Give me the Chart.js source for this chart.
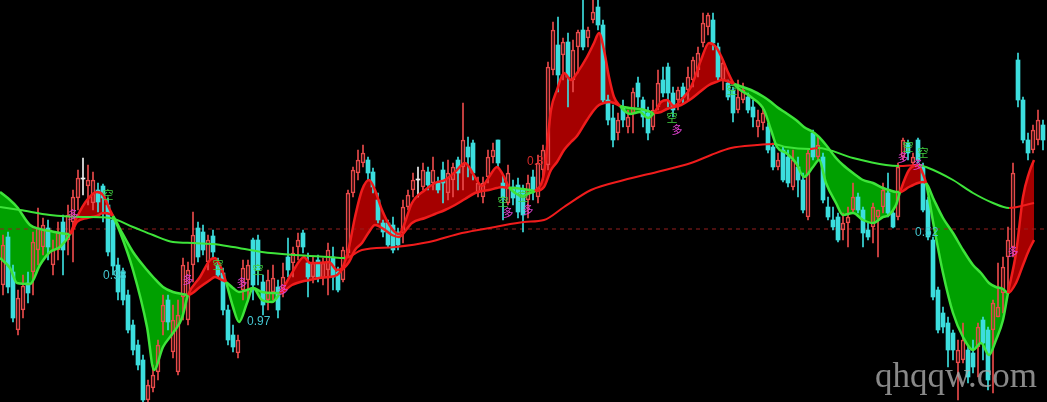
<!DOCTYPE html>
<html>
<head>
<meta charset="utf-8">
<script src="https://cdn.jsdelivr.net/npm/chart.js@4"></script>
<style>
    html, body { margin: 0; padding: 0; background: #000; }
    #wrap { width: 1047px; height: 402px; position: relative; }
</style>
</head>
<body>
<div id="wrap"><canvas id="kline"></canvas></div>
<script>
// candles, one per bar
const opens = [
    215,263,228,170,190,217,228,250,253,272, 235,250,278,260,278,302,321,314,297,310,
    314,295,280,235,228,205,175,155,140,100, 112,128,178,200,148,128,203,180,235,272,
    268,238,264,235,227,190,165,147,210,220, 260,260,218,200,208,213,210,243,237,253,
    267,237,223,240,222,230,243,228,220,247, 307,327,337,340,328,300,277,277,275,268,
    267,293,310,320,313,328,317,317,330,307, 320,340,333,353,357,307,303,323,343,360,
    317,297,313,315,310,300,323,303,330,335, 430,455,445,458,420,453,470,462,480,493,
    475,400,382,367,393,373,387,417,400,387, 373,393,420,433,407,400,413,410,420,430,
    457,473,480,453,420,417,410,390,400,403, 393,373,377,373,353,333,350,343,313,333,
    320,283,367,343,343,293,280,283,270,277, 290,303,290,270,273,283,293,307,287,283,
    343,357,337,360,333,300,260,210,187,177, 167,137,140,150,147,153,180,170,170,183,
    207,243,253,440,400,360,350,360,375
];
const highs = [
    265,268,235,210,225,228,268,292,282,280, 260,278,285,295,310,330,342,335,328,317,
    316,302,285,242,232,210,180,160,145,120, 135,160,205,205,195,200,242,238,288,278,
    275,265,270,242,232,195,175,165,240,240, 262,265,225,230,235,220,237,262,253,267,
    270,247,243,245,242,257,253,233,253,310, 333,350,355,343,332,307,280,280,283,272,
    300,310,327,333,337,333,343,323,338,340, 337,343,397,363,360,323,323,350,357,360,
    325,335,320,322,315,325,330,345,355,438, 478,483,462,467,460,470,500,473,500,500,
    480,405,395,387,400,390,412,423,403,393, 400,430,433,437,413,413,417,433,443,453,
    487,487,487,457,440,420,413,420,417,407, 400,390,393,377,357,347,353,350,350,343,
    327,350,370,363,347,303,293,287,287,293, 317,307,293,277,297,290,317,327,290,337,
    362,360,347,362,337,303,263,213,193,183, 170,160,177,153,160,177,183,173,200,237,
    243,273,337,447,403,367,375,390,380
];
const lows = [
    205,207,178,165,182,197,205,235,245,240, 225,240,225,245,238,290,305,295,290,288,
    278,244,225,200,195,167,145,130,98,98, 108,120,165,170,142,125,180,175,218,238,
    245,230,242,222,185,155,148,142,200,200, 200,215,185,190,200,182,203,223,223,240,
    247,203,217,218,215,205,210,208,218,243, 303,320,333,320,307,277,263,253,247,250,
    257,290,303,303,310,310,310,307,297,300, 303,310,310,323,320,303,297,317,337,333,
    280,295,295,282,268,282,300,297,320,330, 425,408,420,393,408,427,450,453,477,470,
    398,375,353,360,373,367,367,393,373,360, 370,390,403,393,383,390,397,400,413,423,
    453,465,450,420,410,400,378,387,397,387, 373,363,370,347,330,330,318,313,310,303,
    287,280,340,340,297,280,270,258,260,253, 287,287,253,260,257,243,287,283,272,280,
    340,340,333,337,288,260,200,167,167,133, 140,100,137,117,127,123,140,110,107,183,
    187,207,243,393,357,340,347,355,350
];
const closes = [
    255,213,182,202,214,207,258,272,275,253, 250,268,250,285,303,322,321,320,320,298,
    302,248,234,208,200,170,150,135,100,115, 125,155,195,178,180,185,235,230,265,243,
    250,260,248,225,190,160,153,160,232,235, 215,230,195,220,222,190,223,230,247,260,
    253,223,237,223,237,250,223,210,250,307, 330,340,347,327,313,280,268,255,250,255,
    293,305,320,320,330,315,330,310,317,327, 333,327,360,343,327,317,317,343,350,337,
    302,327,302,288,285,317,310,337,350,433, 470,425,458,423,450,468,453,470,488,475,
    400,380,360,380,380,383,408,403,383,367, 390,417,407,407,390,410,403,423,440,447,
    477,485,457,423,437,403,387,403,410,390, 383,380,387,350,333,340,320,317,340,320,
    290,347,343,355,300,283,273,260,277,283, 303,290,267,263,293,290,310,287,273,333,
    360,347,343,340,290,263,203,170,173,150, 150,150,160,123,133,173,157,120,197,193,
    233,260,327,400,360,347,370,380,360
];

// fast / slow trend band (bar index, price)
const bandIdx = [
    -0.6,1.4,2.8,5.4,7.4,9.4,11.4,13.4,14.8,16.8, 18.8,20,21.4,22,23.4,26,28.8,30.2,32,34,
    35.8,37,39.4,41.4,42.4,43.8,44.6,46,47.2,48.8, 50,51.8,53.8,55.4,57.8,60.2,61.4,63.2,65.2,66.8,
    67.8,69.2,70.4,71.8,73.2,74.4,75.8,77.8,79.2,79.8, 81.8,84.4,86.4,88.4,90.4,92.4,94.4,95.8,97.2,98.8,
    99.8,101.2,102.4,104,105.4,106.4,108.2,109.6,110.8,112.2, 113.6,114.8,116.8,118.2,119.2,120.2,121.2,122.2,123.4,125.4,
    127.4,129,130.2,131.6,132.8,134.2,135.6,137.6,139.6,141.2, 142.6,143.8,144.8,146.2,149.6,152.2,153.6,154.8,156.6,158.6,
    160.2,162,163.2,164.6,166.6,168,170,172,174,176, 177.2,178.6,179.4,181.2,183,184,184.6,186.2,188,190,
    192,194,195.6,197.2,198.6,200,201,202.6,204,205.2, 206.2
];
const bandFast = [
    242,232,217,216,235,248,253,266,283,300, 308,305,290,284,268,230,173,130,153,167,
    182,205,223,240,242,230,218,193,178,197, 212,200,198,207,227,243,237,237,238,230,
    232,253,283,310,320,310,290,271,266,270, 297,310,317,320,328,337,323,314,323,333,
    327,313,307,304,307,309,327,390,410,427, 420,427,443,457,467,450,423,403,394,386,
    388,382,387,398,400,394,400,413,440,457, 453,442,430,416,403,390,370,353,347,337,
    323,333,340,317,297,285,287,280,277,283, 285,295,308,330,335,326,317,273,227,187,
    163,150,157,145,160,180,207,247,303,327, 340
];
const bandSlow = [
    308,300,293,275,271,269,267,266,278,282, 284,287,286,284,271,248,230,222,213,208,
    206,205,213,220,223,220,218,212,208,210, 212,208,207,207,215,219,220,222,223,225,
    230,238,250,257,268,275,272,265,263,265, 277,282,286,290,295,301,307,309,310,312,
    313,312,312,311,310,309,313,330,338,350, 358,364,380,390,395,397,398,397,394,392,
    391,389,387,388,391,393,395,401,409,415, 418,420,419,416,410,403,398,393,387,380,
    373,368,363,355,342,335,327,320,317,312, 310,308,308,313,317,318,317,300,282,267,
    250,235,227,217,213,211,207,217,235,250, 260
];

// long moving average
const maIdx = [
    -0.6,3.4,9.4,16,21.4,26,30,34,38,42, 46,51.8,58.4,65.2,68.4,71.8,78.4,85.2,91.8,98.4,
    104.2,108.2,112.2,117.6,124.2,130.8,137.6,141.6,145.6,150.8, 154.2,156.6,161.4,163,170,176.6,179.2,183.2,184.6,190,
    194,198,201.2,206.2
];
const maVals = [
    293,290,285,283,282,273,265,258,257,256, 253,248,245,243,242,250,253,258,267,273,
    278,280,293,310,320,328,337,345,352,355, 356,353,351,352,342,335,334,335,333,320,
    307,297,292,297
];

const refPrice = 271;

// value notes and signal glyphs
const noteIdx = [20, 48.8, 104.8, 182.4];
const notePrice = [224, 178, 338, 267];
const noteText = ['0.98', '0.97', '0.8', '0.52'];
const noteUp = [false, false, true, false];

const longIdx = [14, 37, 47.8, 56, 101, 105, 134.8, 180, 183, 202];
const longPrice = [285, 220, 217, 210, 287, 290, 370, 342, 335, 248];
const shortIdx = [21, 43, 51, 100, 104, 133.8, 145.8, 181, 184];
const shortPrice = [305, 235, 230, 298, 303, 382, 410, 353, 347];

const UP = '#e84a4a';
const DOWN = '#3cdede';
const DOJI = '#f0f0f0';
const LINE_RED = '#f01c1c';
const LINE_GREEN = '#3ee43a';

const candleColor = (i) => {
    if (closes[i] > opens[i]) return UP;
    if (closes[i] < opens[i]) return DOWN;
    return DOJI;
};

const bodies = opens.map((o, i) => ({ x: i, y: [Math.min(o, closes[i]), Math.max(o, closes[i])] }));
const upperWicks = highs.map((h, i) => ({ x: i, y: [Math.max(opens[i], closes[i]), h] }));
const lowerWicks = lows.map((l, i) => ({ x: i, y: [l, Math.min(opens[i], closes[i])] }));

const fastPts = bandIdx.map((x, k) => ({ x, y: bandFast[k] }));
const slowPts = bandIdx.map((x, k) => ({ x, y: bandSlow[k] }));
const maPts = maIdx.map((x, k) => ({ x, y: maVals[k] }));

const bandColor = (ctx) => {
    const a = ctx.p0DataIndex;
    const b = ctx.p1DataIndex;
    const d = (bandFast[a] - bandSlow[a]) + (bandFast[b] - bandSlow[b]);
    return d > 0 ? LINE_RED : LINE_GREEN;
};

const overlay = {
    id: 'overlay',
    afterDatasetsDraw(chart) {
        const { ctx, chartArea } = chart;
        const x = chart.scales.x;
        const y = chart.scales.y;
        ctx.save();

        ctx.font = '12px "Liberation Sans", Arial, sans-serif';
        ctx.textBaseline = 'middle';
        ctx.textAlign = 'left';
        noteText.forEach((t, k) => {
            ctx.fillStyle = noteUp[k] ? '#d22a2a' : '#44c6d0';
            ctx.fillText(t, x.getPixelForValue(noteIdx[k]), y.getPixelForValue(notePrice[k]));
        });

        ctx.font = '11px "Noto Sans CJK SC"';
        ctx.textAlign = 'center';
        ctx.fillStyle = '#e040d0';
        longIdx.forEach((v, k) => {
            ctx.fillText('多', x.getPixelForValue(v), y.getPixelForValue(longPrice[k]));
        });
        ctx.fillStyle = '#40d040';
        shortIdx.forEach((v, k) => {
            ctx.fillText('空', x.getPixelForValue(v), y.getPixelForValue(shortPrice[k]));
        });

        // watermark
        ctx.font = '35px "Liberation Serif", "DejaVu Serif", serif';
        ctx.textAlign = 'right';
        ctx.textBaseline = 'alphabetic';
        ctx.fillStyle = 'rgba(170,170,170,0.8)';
        ctx.fillText('qhqqw.com', chartArea.right - 10, chartArea.bottom - 15);
        ctx.restore();
    },
};

new Chart(document.getElementById('kline'), {
    type: 'bar',
    data: {
        datasets: [
            {
                type: 'line',
                data: fastPts,
                borderWidth: 2.5,
                pointRadius: 0,
                cubicInterpolationMode: 'monotone',
                segment: { borderColor: bandColor },
                fill: { target: 1, above: 'rgb(165,0,0)', below: 'rgb(0,160,0)' },
                order: 1,
            },
            {
                type: 'line',
                data: slowPts,
                borderWidth: 2.5,
                pointRadius: 0,
                cubicInterpolationMode: 'monotone',
                segment: { borderColor: bandColor },
                fill: false,
                order: 1,
            },
            {
                type: 'line',
                data: maPts,
                borderWidth: 2,
                pointRadius: 0,
                cubicInterpolationMode: 'monotone',
                segment: {
                    borderColor: (ctx) => (ctx.p1.parsed.y > ctx.p0.parsed.y ? LINE_RED : LINE_GREEN),
                },
                fill: false,
                order: 0,
            },
            {
                type: 'line',
                data: [{ x: -0.6, y: refPrice }, { x: 208.8, y: refPrice }],
                borderColor: 'rgb(150,30,30)',
                borderWidth: 1,
                borderDash: [4, 4],
                pointRadius: 0,
                fill: false,
                order: 10,
            },
            {
                data: upperWicks,
                grouped: false,
                barThickness: 1,
                backgroundColor: (ctx) => candleColor(ctx.dataIndex),
                borderWidth: 0,
                order: 3,
            },
            {
                data: lowerWicks,
                grouped: false,
                barThickness: 1,
                backgroundColor: (ctx) => candleColor(ctx.dataIndex),
                borderWidth: 0,
                order: 3,
            },
            {
                data: bodies,
                grouped: false,
                barThickness: 4,
                minBarLength: 1,
                backgroundColor: (ctx) => {
                    const c = candleColor(ctx.dataIndex);
                    return c === UP ? 'rgba(0,0,0,0)' : c;
                },
                borderColor: UP,
                borderWidth: (ctx) => (candleColor(ctx.dataIndex) === UP ? 1 : 0),
                borderSkipped: false,
                order: 2,
            },
        ],
    },
    options: {
        responsive: true,
        maintainAspectRatio: false,
        animation: false,
        devicePixelRatio: 1,
        layout: { padding: 0 },
        scales: {
            x: { type: 'linear', min: -0.6, max: 208.8, offset: false, display: false },
            y: { min: 98, max: 500, display: false },
        },
        plugins: {
            legend: { display: false },
            tooltip: { enabled: false },
            filler: { drawTime: 'beforeDatasetsDraw' },
        },
    },
    plugins: [overlay],
});
</script>
</body>
</html>
